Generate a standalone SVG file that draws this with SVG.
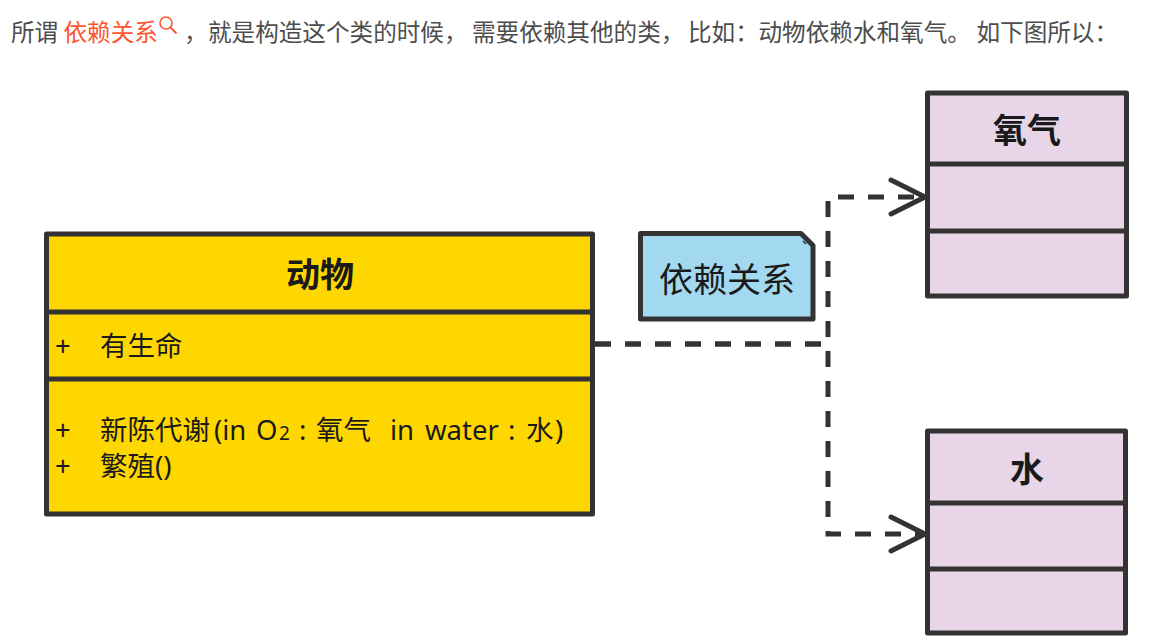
<svg xmlns="http://www.w3.org/2000/svg" width="1155" height="644" viewBox="0 0 1155 644">
  <style>
    .body { font-family: "Noto Sans CJK SC", "Noto Sans", sans-serif; font-size: 23.6px; fill: #4d4d4d; }
    .link { fill: #fc5531; }
    .box { stroke: #333333; stroke-width: 5; stroke-linejoin: round; }
    .sep { stroke: #333333; stroke-width: 5; }
    .title { font-family: "Noto Sans CJK SC", sans-serif; font-weight: bold; font-size: 34px; fill: #1a1a1a; text-anchor: middle; }
    .member { font-family: "Noto Sans", "Noto Sans CJK SC", sans-serif; font-size: 27.5px; fill: #1a1a1a; }
    .dep { fill: none; stroke: #333333; stroke-width: 5; stroke-dasharray: 16 14; }
    .head { fill: none; stroke: #333333; stroke-width: 5; stroke-linecap: round; stroke-linejoin: round; }
  </style>

  <rect width="1155" height="644" fill="#ffffff"/>

  <!-- intro sentence, laid out phrase by phrase -->
  <g id="intro">
    <text class="body" x="11" y="41">所谓 <tspan class="link">依赖关系</tspan></text>
    <circle cx="166" cy="23" r="6" fill="none" stroke="#fc5531" stroke-width="1.6"/>
    <line x1="170.5" y1="27.5" x2="176" y2="33" stroke="#fc5531" stroke-width="1.8" stroke-linecap="round"/>
    <text class="body" y="41"><tspan x="184">，</tspan><tspan x="208">就是构造这个类的时候，</tspan><tspan x="472">需要依赖其他的类，</tspan><tspan x="688">比如：</tspan><tspan x="758.5">动物依赖水和氧气。</tspan><tspan x="976.5">如下图所以：</tspan></text>
  </g>

  <!-- dependency connectors -->
  <g id="connectors">
    <path class="dep" d="M595,344 H828 V197 H922"/>
    <path class="dep" d="M595,344 H828 V534 H922"/>
    <polyline class="head" points="891,180 925,197 891,214"/>
    <polyline class="head" points="891,517 925,534 891,551"/>
  </g>

  <!-- class: 动物 -->
  <g id="animal">
    <rect class="box" x="46.5" y="234" width="546" height="280" fill="#ffd700"/>
    <line class="sep" x1="46.5" y1="312" x2="592.5" y2="312"/>
    <line class="sep" x1="46.5" y1="379" x2="592.5" y2="379"/>
    <text class="title" x="320" y="287">动物</text>
    <text class="member" x="55" y="356">+</text>
    <text class="member" x="100" y="356">有生命</text>
    <text class="member" x="55" y="440">+</text>
    <text class="member" y="440"><tspan x="100">新陈代谢</tspan><tspan x="214">(in</tspan><tspan x="256">O</tspan><tspan x="279" font-size="19">2</tspan><tspan x="299">:</tspan><tspan x="316">氧气</tspan><tspan x="390">in</tspan><tspan x="425">water</tspan><tspan x="508">:</tspan><tspan x="526">水</tspan><tspan x="555">)</tspan></text>
    <text class="member" x="55" y="476">+</text>
    <text class="member" x="100" y="476">繁殖()</text>
  </g>

  <!-- note -->
  <g id="note">
    <path class="box" d="M640.5,233.5 H801 L813,245.5 V319 H640.5 Z" fill="#a2d8f0"/>
    <path d="M803,241 L806,244" stroke="#333333" stroke-width="1.5"/>
    <text x="727" y="292" font-family="'Noto Sans CJK SC', sans-serif" font-size="34" fill="#1a1a1a" text-anchor="middle">依赖关系</text>
  </g>

  <!-- class: 氧气 -->
  <g id="oxygen">
    <rect class="box" x="927.5" y="93" width="199" height="203" fill="#e8d6e8"/>
    <line class="sep" x1="927.5" y1="164" x2="1126.5" y2="164"/>
    <line class="sep" x1="927.5" y1="231" x2="1126.5" y2="231"/>
    <text class="title" x="1027" y="143">氧气</text>
  </g>

  <!-- class: 水 -->
  <g id="water">
    <rect class="box" x="927.5" y="431" width="198" height="202" fill="#e8d6e8"/>
    <line class="sep" x1="927.5" y1="503" x2="1125.5" y2="503"/>
    <line class="sep" x1="927.5" y1="569" x2="1125.5" y2="569"/>
    <text class="title" x="1027" y="482">水</text>
  </g>
</svg>
